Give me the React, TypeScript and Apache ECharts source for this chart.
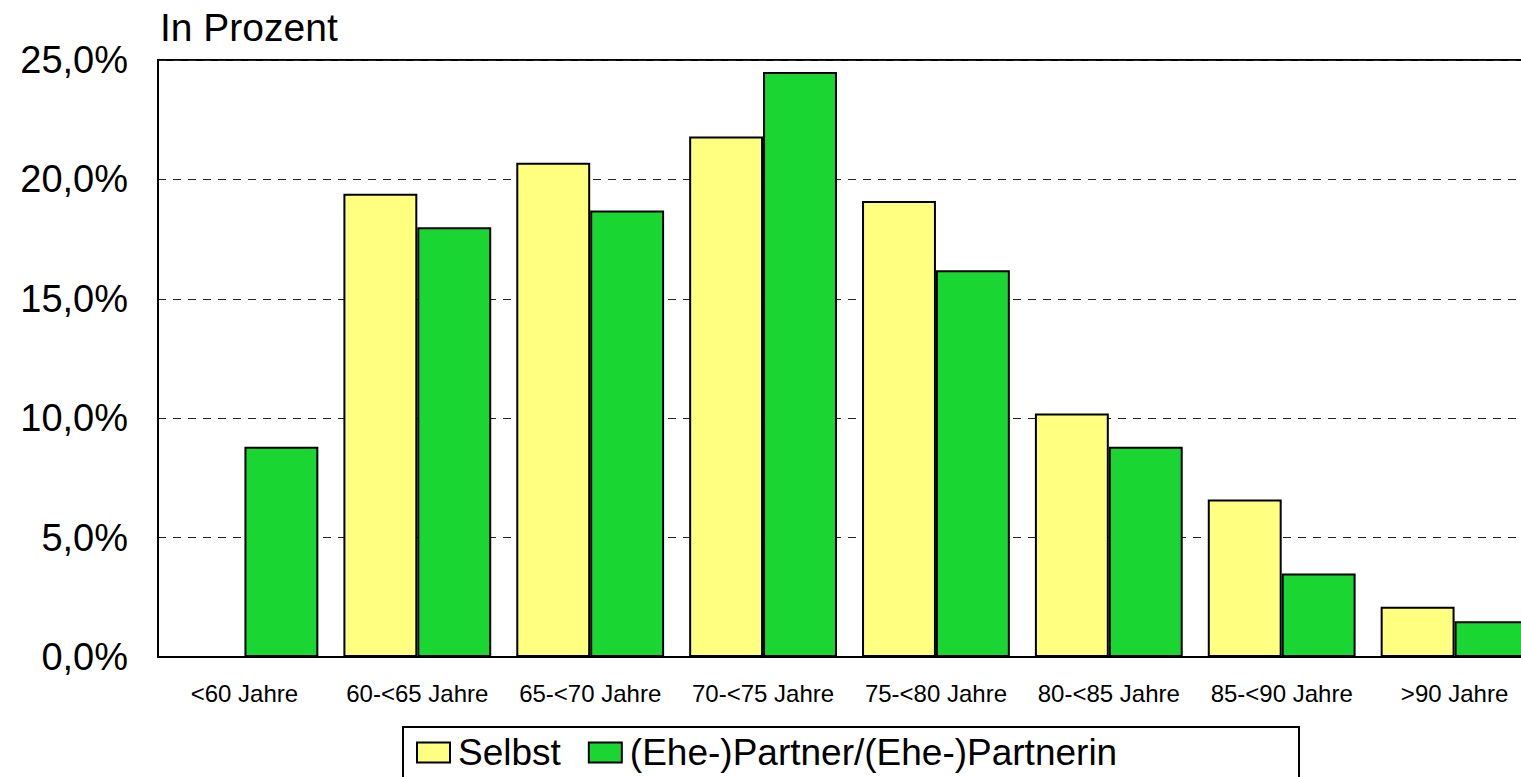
import React, { useEffect, useRef } from "react";
import * as echarts from "echarts";

const categories = [
  "<60 Jahre",
  "60-<65 Jahre",
  "65-<70 Jahre",
  "70-<75 Jahre",
  "75-<80 Jahre",
  "80-<85 Jahre",
  "85-<90 Jahre",
  ">90 Jahre",
];
const selbst = [0, 19.4, 20.7, 21.8, 19.1, 10.2, 6.6, 2.1];
const partner = [8.8, 18.0, 18.7, 24.5, 16.2, 8.8, 3.5, 1.5];
const seriesNames = ["Selbst", "(Ehe-)Partner/(Ehe-)Partnerin"];
const yTitle = "In Prozent";

const FONT = "'Liberation Sans', Arial, sans-serif";

export default function App() {
  const ref = useRef<HTMLDivElement>(null);
  useEffect(() => {
    if (!ref.current) return;
    const chart = echarts.init(ref.current, undefined, { renderer: "svg" });
    chart.setOption({
      animation: false,
      backgroundColor: "#ffffff",
      textStyle: { fontFamily: FONT, color: "#000" },
      grid: {
        left: 158,
        top: 60,
        width: 1383,
        height: 597,
        containLabel: false,
        outerBoundsMode: "none",
        show: true,
        borderColor: "#000",
        borderWidth: 2,
        backgroundColor: "transparent",
      },
      legend: {
        left: 416,
        top: 734,
        padding: 0,
        itemWidth: 33,
        itemHeight: 20,
        itemGap: 27,
        icon: "rect",
        textStyle: {
          fontFamily: FONT,
          fontSize: 37,
          color: "#000",
          padding: [0, 0, 0, 3],
        },
        data: seriesNames,
      },
      graphic: [
        {
          type: "rect",
          shape: { x: 403, y: 727, width: 896, height: 80 },
          style: { fill: "none", stroke: "#000", lineWidth: 2 },
          z: 10,
        },
        {
          type: "text",
          x: 160,
          y: 27,
          style: {
            text: yTitle,
            fontFamily: FONT,
            fontSize: 39,
            fill: "#000",
            textVerticalAlign: "middle",
          },
        },
      ],
      xAxis: {
        type: "category",
        data: categories,
        axisLine: { show: true, lineStyle: { color: "#000", width: 2 } },
        axisTick: { show: false },
        axisLabel: {
          fontFamily: FONT,
          fontSize: 24,
          color: "#000",
          margin: 24,
          interval: 0,
        },
      },
      yAxis: {
        type: "value",
        min: 0,
        max: 25,
        interval: 5,
        axisLine: { show: true, lineStyle: { color: "#000", width: 2 } },
        axisTick: { show: false },
        axisLabel: {
          fontFamily: FONT,
          fontSize: 38,
          color: "#000",
          margin: 30,
          formatter: (v: number) => v.toFixed(1).replace(".", ",") + "%",
        },
        splitLine: {
          show: true,
          lineStyle: { color: "#222", width: 1, type: [8, 7] },
        },
      },
      series: [
        {
          name: seriesNames[0],
          type: "bar",
          data: selbst,
          barGap: "0%",
          barCategoryGap: "14.5%",
          itemStyle: { color: "#FFFF80", borderColor: "#000", borderWidth: 2 },
        },
        {
          name: seriesNames[1],
          type: "bar",
          data: partner,
          barGap: "0%",
          barCategoryGap: "14.5%",
          itemStyle: { color: "#1AD632", borderColor: "#000", borderWidth: 2 },
        },
      ],
    });
    return () => chart.dispose();
  }, []);
  return (
    <div
      ref={ref}
      style={{
        position: "fixed",
        left: 0,
        top: 0,
        width: 1521,
        height: 777,
        overflow: "hidden",
        background: "#fff",
      }}
    />
  );
}
